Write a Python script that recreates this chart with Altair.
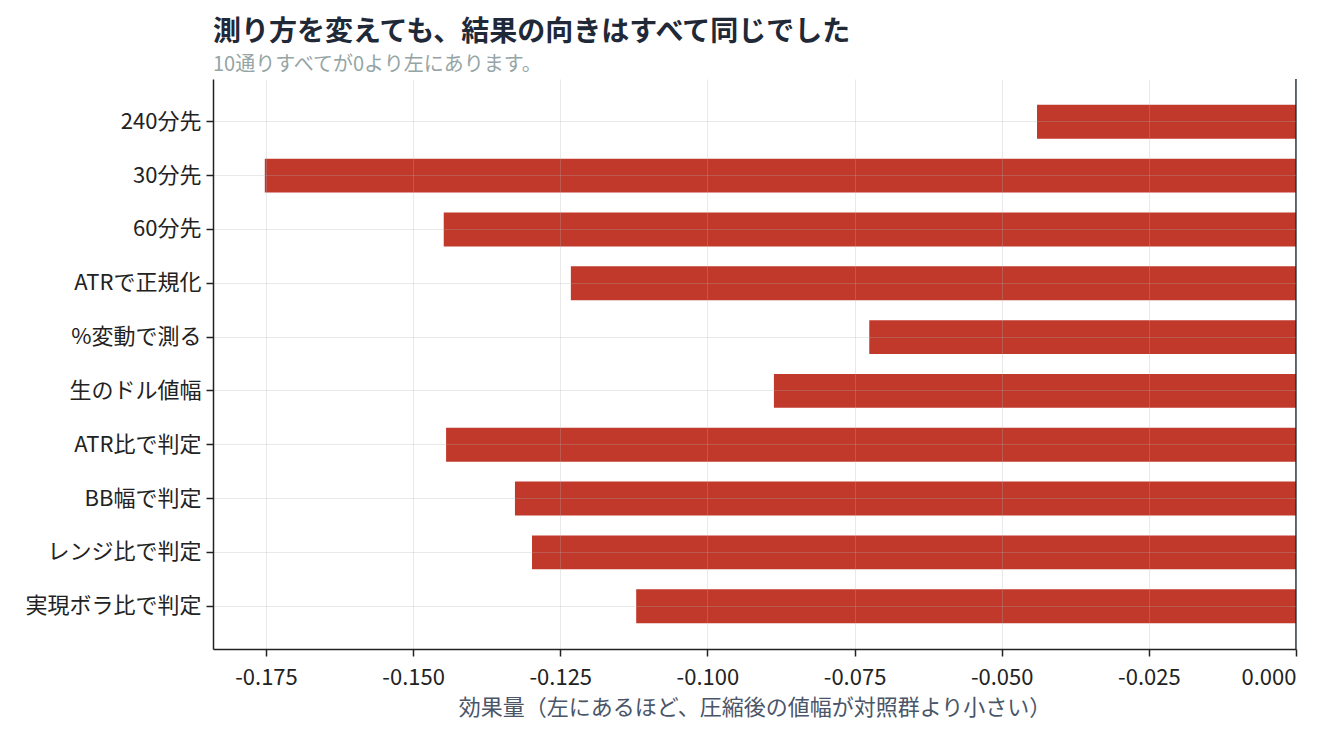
import pandas as pd
import altair as alt

# Data
labels = ['240分先', '30分先', '60分先', 'ATRで正規化', '%変動で測る',
          '生のドル値幅', 'ATR比で判定', 'BB幅で判定', 'レンジ比で判定', '実現ボラ比で判定']
effects = [-0.0440, -0.1752, -0.1448, -0.1232, -0.0725,
           -0.0887, -0.1444, -0.1327, -0.1298, -0.1121]
tick_values = [-0.175, -0.150, -0.125, -0.100, -0.075, -0.050, -0.025, 0.0]

df = pd.DataFrame({'label': labels, 'effect': effects})
font = 'Noto Sans CJK JP'

bars = alt.Chart(df).mark_bar(color='#c0392b').encode(
    y=alt.Y('label:N', sort=labels, title=None,
            scale=alt.Scale(paddingInner=0.37, paddingOuter=0.48),
            axis=alt.Axis(grid=True, bandPosition=0.5, zindex=1)),
    x=alt.X('effect:Q', title='効果量（左にあるほど、圧縮後の値幅が対照群より小さい）',
            scale=alt.Scale(domain=[-0.184, 0], nice=False, zero=False),
            axis=alt.Axis(values=tick_values, format='.3f', zindex=1,
                          labelExpr="replace(datum.label, '\u2212', '-')")),
)

zero_rule = alt.Chart(pd.DataFrame({'x': [0.0]})).mark_rule(
    color='#1f2937', strokeWidth=1.5
).encode(x='x:Q')

chart = (bars + zero_rule).properties(
    width=1083,
    height=570,
    padding={'left': 205, 'top': 71, 'right': 10, 'bottom': 76},
    autosize=alt.AutoSizeParams(type='none'),
    title=alt.TitleParams(
        text='測り方を変えても、結果の向きはすべて同じでした',
        subtitle='10通りすべてが0より左にあります。',
        anchor='start', frame='group',
        font=font, fontSize=28, fontWeight='bold', color='#1f2937',
        subtitleFont=font, subtitleFontSize=20, subtitleColor='#95a5a6',
        subtitlePadding=8, offset=3,
    ),
).configure_view(
    stroke=None
).configure_axis(
    labelFont=font, labelFontSize=22, labelColor='#222222',
    titleFont=font, titleFontSize=22, titleColor='#4a5568', titleFontWeight='normal',
    domainColor='#222222', domainWidth=1.5,
    tickColor='#222222', tickSize=7, tickWidth=1.5,
    gridColor='#b0b0b0', gridOpacity=0.28,
).configure_axisY(
    labelPadding=5,
).configure_axisX(
    labelPadding=11, titlePadding=9,
)

chart.save('out.html', embed_options={'renderer': 'svg', 'actions': False})
